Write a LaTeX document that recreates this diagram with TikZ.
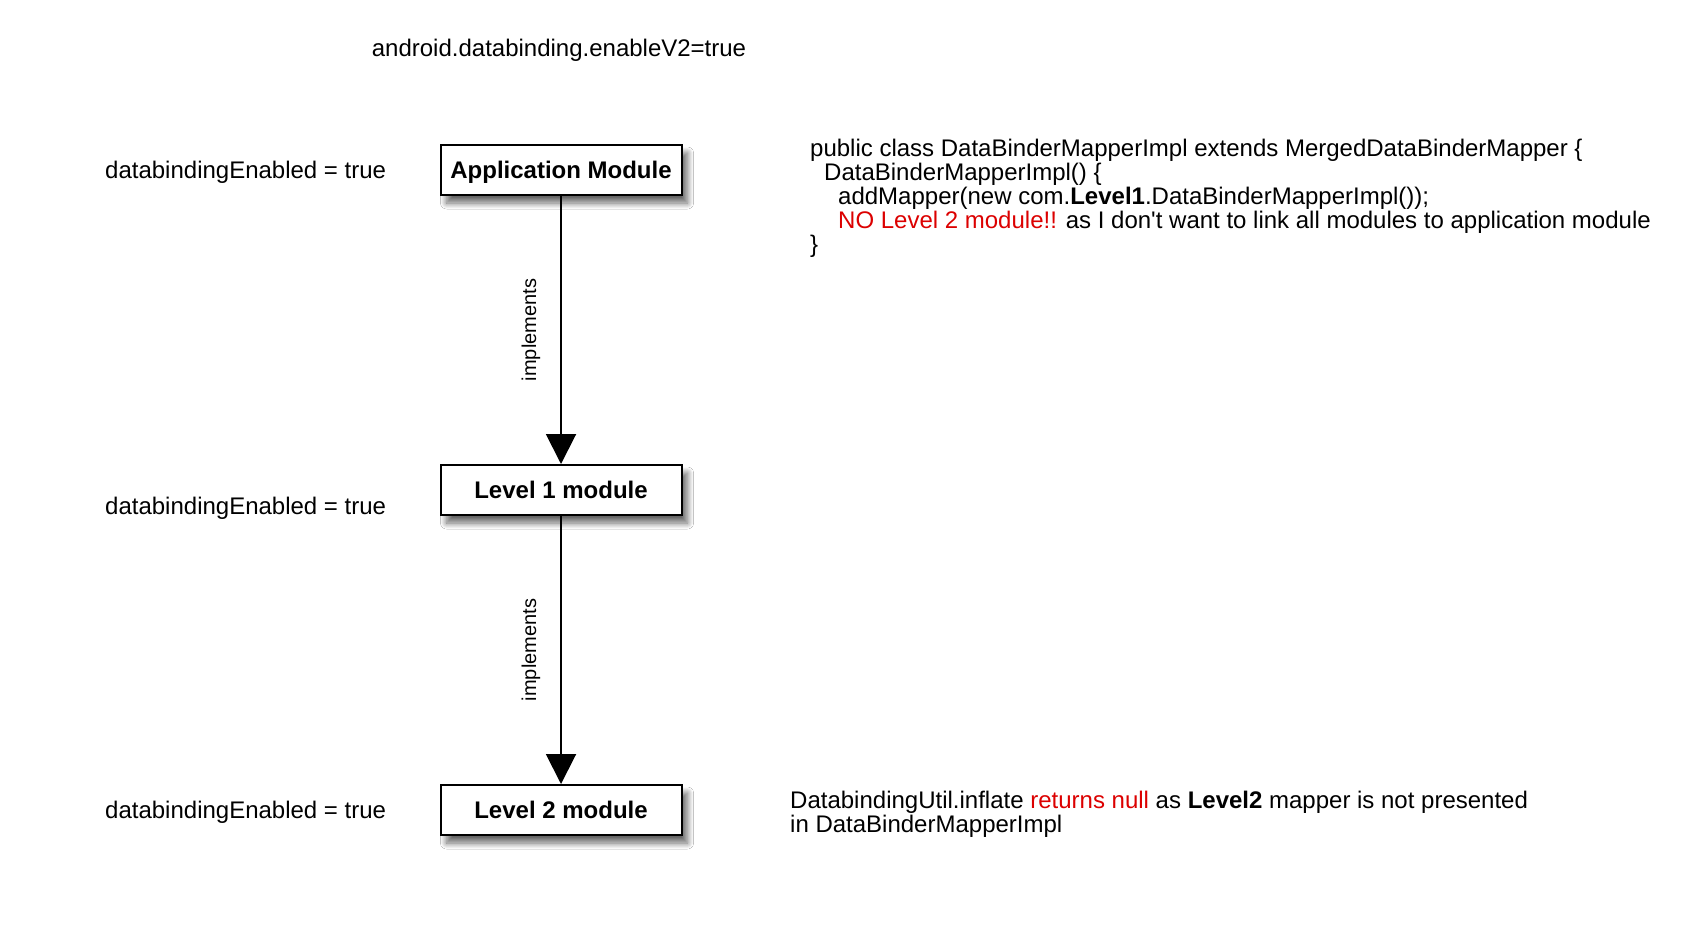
\documentclass[tikz,border=0pt]{standalone}
\usepackage{fontspec}
\setmainfont{Liberation Sans}
\usetikzlibrary{arrows.meta,shadows.blur}
\definecolor{nored}{RGB}{220,0,0}
\tikzset{
  modbox/.style={draw=black, line width=2pt, fill=white, minimum width=241pt, minimum height=50pt,
    font=\fontsize{24}{24}\selectfont\bfseries, inner sep=0pt, text height=17pt, text depth=0pt,
    blur shadow={shadow xshift=6pt, shadow yshift=-8pt, shadow blur radius=6pt, shadow opacity=60, shadow blur steps=12}},
  lbl/.style={font=\fontsize{24}{24}\selectfont, inner sep=0pt},
  impl/.style={font=\fontsize{20}{20}\selectfont, inner sep=0pt, rotate=90},
  implarrow/.style={line width=2pt, -{Triangle[width=30pt,length=30pt]}}
}
\begin{document}
\begin{tikzpicture}[x=1pt,y=-1pt]
\useasboundingbox[fill=white] (0,0) rectangle (1688,928);
\node[lbl] (top) at (559,50) {android.databinding.enableV2=true};
\node[modbox] (app) at (561,170) {Application Module};
\node[modbox] (l1) at (561,490) {Level 1 module};
\node[modbox] (l2) at (561,810) {Level 2 module};
\node[lbl, anchor=west] (e0) at (105,172) {databindingEnabled = true};
\node[lbl, anchor=west] (e1) at (105,508) {databindingEnabled = true};
\node[lbl, anchor=west] (e2) at (105,812) {databindingEnabled = true};
\draw[implarrow] (app.south) -- (l1.north);
\draw[implarrow] (l1.south) -- (l2.north);
\node[impl] (i1) at (531,330) {implements};
\node[impl] (i2) at (531,650) {implements};
\node[lbl, anchor=north west, align=left] (code) at (810,139) {public class DataBinderMapperImpl extends MergedDataBinderMapper \{\\
\hspace*{14pt}DataBinderMapperImpl() \{\\
\hspace*{28pt}addMapper(new com.\textbf{Level1}.DataBinderMapperImpl());\\
\hspace*{28pt}\textcolor{nored}{NO Level 2 module!!} as I don\textquotesingle t want to link all modules to application module\\
\}};
\node[lbl, anchor=north west, align=left] (note) at (790,791) {DatabindingUtil.inflate \textcolor{nored}{returns null} as \textbf{Level2} mapper is not presented\\
in DataBinderMapperImpl};
\end{tikzpicture}
\end{document}
